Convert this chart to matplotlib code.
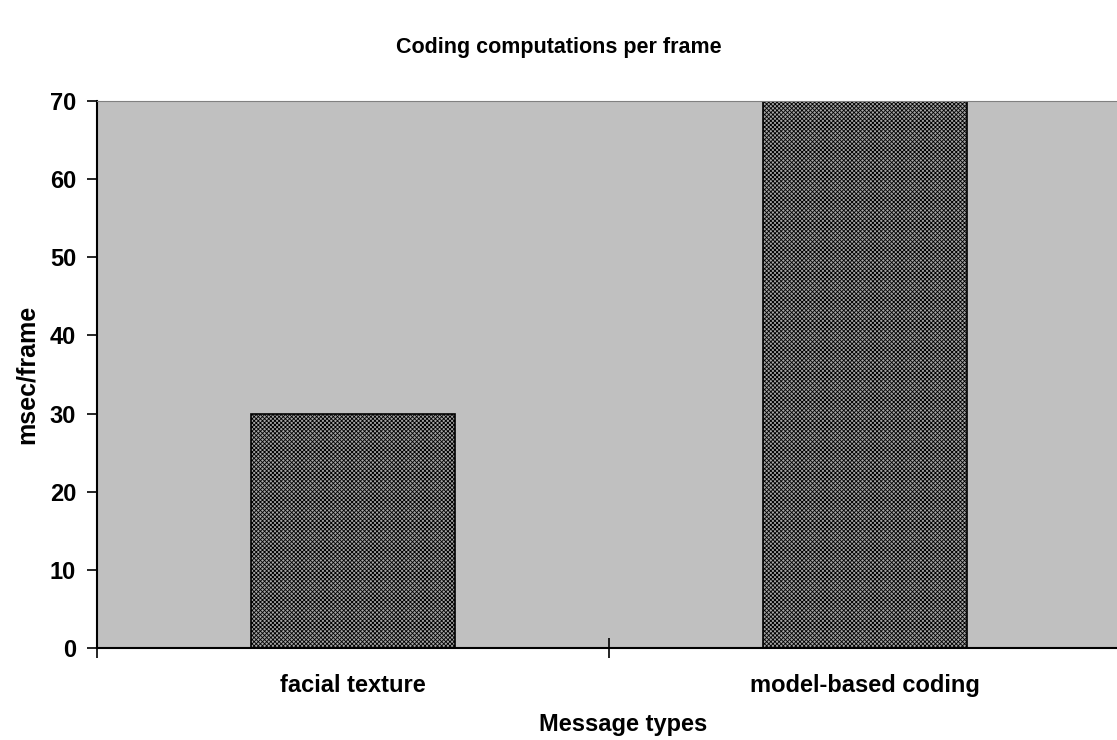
import numpy as np
import matplotlib.pyplot as plt

plt.rcParams['font.family'] = ['Liberation Sans', 'DejaVu Sans']
plt.rcParams['font.weight'] = 'bold'
plt.rcParams['hatch.color'] = '#5a5a5a'
plt.rcParams['hatch.linewidth'] = 0.6

categories = ["facial texture", "model-based coding"]
msec_per_frame = [30, 70]
yticks = [0, 10, 20, 30, 40, 50, 60, 70]

fig = plt.figure(figsize=(11.17, 7.40), dpi=100)
ax = fig.add_axes([0.0868, 0.1243, 0.9168, 0.7392])
ax.set_facecolor('#c0c0c0')

# bars sit in the middle of each category slot
x = np.arange(len(categories)) + 0.5
ax.bar(x, msec_per_frame, width=0.4, color='#a4a4a4', edgecolor='black',
       linewidth=1.2, hatch='xxxxxxxx', zorder=2)

ax.set_xlim(0, 2)
ax.set_ylim(0, 70)
ax.set_yticks(yticks)
ax.set_xticks([0, 1, 2])
ax.set_xticklabels([])
ax.set_xticks(x, minor=True)
ax.set_xticklabels(categories, minor=True)
ax.tick_params(axis='x', which='minor', length=0, pad=19, labelsize=17)
ax.tick_params(axis='x', which='major', direction='inout', length=14, width=1.2)
ax.tick_params(axis='y', direction='out', length=7, width=1.2, labelsize=17, pad=8)

ax.spines['top'].set_color('#808080')
ax.spines['right'].set_visible(False)
ax.spines['left'].set_linewidth(1.5)
ax.spines['bottom'].set_linewidth(1.5)

ax.set_xlabel("Message types", fontsize=17, fontweight='bold', labelpad=10)
ax.xaxis.set_label_coords(0.514, -0.118)
ax.set_ylabel("msec/frame", fontsize=18, fontweight='bold', labelpad=8)
fig.suptitle("Coding computations per frame", fontsize=15.5, fontweight='bold', y=0.95)

fig.savefig("out.png", dpi=100)
